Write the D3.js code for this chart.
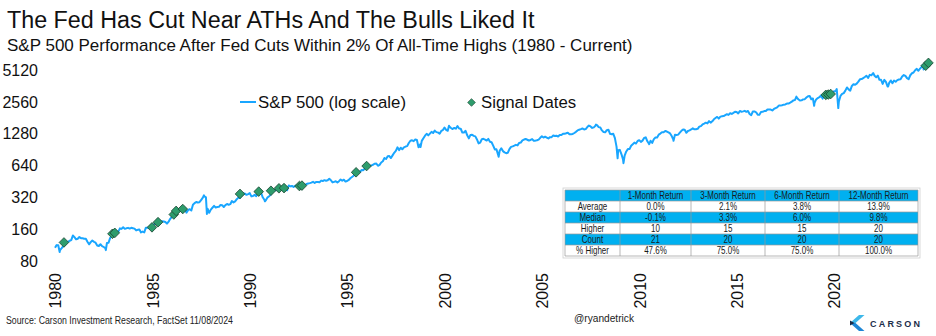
<!DOCTYPE html>
<html><head><meta charset="utf-8">
<script src="https://cdn.jsdelivr.net/npm/d3@7"></script>
<style>
body{margin:0;background:#fff}
svg{display:block;font-family:"Liberation Sans",Arial,Helvetica,sans-serif}
</style>
</head><body>
<svg id="chart" width="936" height="336"></svg>
<script>
// ---------------- DATA ----------------
const titleText = "The Fed Has Cut Near ATHs And The Bulls Liked It";
const subtitleText = "S&P 500 Performance After Fed Cuts Within 2% Of All-Time Highs (1980 - Current)";
const sourceText = "Source: Carson Investment Research, FactSet 11/08/2024";
const handleText = "@ryandetrick";

// S&P 500 month-end closes; first value is the Dec-1979 close (placed at 1980.0)
const startYear = 1980;
const spxMonthly = [
107.94,
114.16,113.66,102.09,106.29,111.24,114.24,121.67,122.38,125.46,127.47,140.52,135.76,
129.55,131.27,136.00,132.81,132.59,131.21,130.92,122.79,116.18,121.89,126.35,122.55,
120.40,113.11,111.96,116.44,111.88,109.61,107.09,119.51,120.42,133.71,138.54,140.64,
145.30,148.06,152.96,164.42,162.39,168.11,162.56,164.40,166.07,163.55,166.40,164.93,
163.41,157.06,159.18,160.05,150.55,153.18,150.66,166.68,166.10,166.09,163.58,167.24,
179.63,181.18,180.66,179.83,189.55,191.85,190.92,188.63,182.08,189.82,202.17,211.28,
211.78,226.92,238.90,235.52,247.35,250.84,236.12,252.93,231.32,243.98,249.22,242.17,
274.08,284.20,291.70,288.36,290.10,304.00,318.66,329.80,321.83,251.79,230.30,247.08,
257.07,267.82,258.89,261.33,262.16,273.50,272.02,261.52,271.91,278.97,273.70,277.72,
297.47,288.86,294.87,309.64,320.52,317.98,346.08,351.45,349.15,340.36,345.99,353.40,
329.08,331.89,339.94,330.80,361.23,358.02,356.15,322.56,306.05,304.00,322.22,330.22,
343.93,367.07,375.22,375.34,389.83,371.16,387.81,395.43,387.86,392.46,375.22,417.09,
408.79,412.70,403.69,414.95,415.35,408.14,424.21,414.03,417.80,418.68,431.35,435.71,
438.78,443.38,451.67,440.19,450.19,450.53,448.13,463.56,458.93,467.83,461.79,466.45,
481.61,467.14,445.77,450.91,456.50,444.27,458.26,475.49,462.69,472.35,453.69,459.27,
470.42,487.39,500.71,514.71,533.40,544.75,562.06,561.88,584.41,581.50,605.37,615.93,
636.02,640.43,645.50,654.17,669.12,670.63,639.95,651.99,687.33,705.27,757.02,740.74,
786.16,790.82,757.12,801.34,848.28,885.14,954.29,899.47,947.28,914.62,955.40,970.43,
980.28,1049.34,1101.75,1111.75,1090.82,1133.84,1120.67,957.28,1017.01,1098.67,1163.63,1229.23,
1279.64,1238.33,1286.37,1335.18,1301.84,1372.71,1328.72,1320.41,1282.71,1362.93,1388.91,1469.25,
1394.46,1366.42,1498.58,1452.43,1420.60,1454.60,1430.83,1517.68,1436.51,1429.40,1314.95,1320.28,
1366.01,1239.94,1160.33,1249.46,1255.82,1224.38,1211.23,1133.58,1040.94,1059.78,1139.45,1148.08,
1130.20,1106.73,1147.39,1076.92,1067.14,989.82,911.62,916.07,815.28,885.76,936.31,879.82,
855.70,841.15,848.18,916.92,963.59,974.50,990.31,1008.01,995.97,1050.71,1058.20,1111.92,
1131.13,1144.94,1126.21,1107.30,1120.68,1140.84,1101.72,1104.24,1114.58,1130.20,1173.82,1211.92,
1181.27,1203.60,1180.59,1156.85,1191.50,1191.33,1234.18,1220.33,1228.81,1207.01,1249.48,1248.29,
1280.08,1280.66,1294.87,1310.61,1270.09,1270.20,1276.66,1303.82,1335.85,1377.94,1400.63,1418.30,
1438.24,1406.82,1420.86,1482.37,1530.62,1503.35,1455.27,1473.99,1526.75,1549.38,1481.14,1468.36,
1378.55,1330.63,1322.70,1385.59,1400.38,1280.00,1267.38,1282.83,1166.36,968.75,896.24,903.25,
825.88,735.09,797.87,872.81,919.14,919.32,987.48,1020.62,1057.08,1036.19,1095.63,1115.10,
1073.87,1104.49,1169.43,1186.69,1089.41,1030.71,1101.60,1049.33,1141.20,1183.26,1180.55,1257.64,
1286.12,1327.22,1325.83,1363.61,1345.20,1320.64,1292.28,1218.89,1131.42,1253.30,1246.96,1257.60,
1312.41,1365.68,1408.47,1397.91,1310.33,1362.16,1379.32,1406.58,1440.67,1412.16,1416.18,1426.19,
1498.11,1514.68,1569.19,1597.57,1630.74,1606.28,1685.73,1632.97,1681.55,1756.54,1805.81,1848.36,
1782.59,1859.45,1872.34,1883.95,1923.57,1960.23,1930.67,2003.37,1972.29,2018.05,2067.56,2058.90,
1994.99,2104.50,2067.89,2085.51,2107.39,2063.11,2103.84,1972.18,1920.03,2079.36,2080.41,2043.94,
1940.24,1932.23,2059.74,2065.30,2096.95,2098.86,2173.60,2170.95,2168.27,2126.15,2198.81,2238.83,
2278.87,2363.64,2362.72,2384.20,2411.80,2423.41,2470.30,2471.65,2519.36,2575.26,2647.58,2673.61,
2823.81,2713.83,2640.87,2648.05,2705.27,2718.37,2816.29,2901.52,2913.98,2711.74,2760.17,2506.85,
2704.10,2784.49,2834.40,2945.83,2752.06,2941.76,2980.38,2926.46,2976.74,3037.56,3140.98,3230.78,
3225.52,2954.22,2584.59,2912.43,3044.31,3100.29,3271.12,3500.31,3363.00,3269.96,3621.63,3756.07,
3714.24,3811.15,3972.89,4181.17,4204.11,4297.50,4395.26,4522.68,4307.54,4605.38,4567.00,4766.18,
4515.55,4373.94,4530.41,4131.93,4132.15,3785.38,4130.29,3955.00,3585.62,3871.98,4080.11,3839.50,
4076.60,3970.15,4109.31,4169.48,4179.83,4450.38,4588.96,4507.66,4288.05,4193.80,4567.80,4769.83,
4845.65,5096.27,5254.35,5035.69,5277.51,5460.48,5522.30,5648.40,5762.48,5705.45
];
// Latest close (11/08/2024)
const spxLatest = [2024.855, 5995.54];
// Notable intra-month highs / lows (decimal year, level)
const spxExtremes = [
[1980.24,98.22],[1982.61,102.42],[1987.65,336.77],[1987.80,224.84],[1990.78,295.46],
[1998.77,959.44],[2000.23,1527.46],[2002.78,776.76],[2007.78,1565.15],[2008.89,752.44],
[2009.19,676.53],[2010.51,1022.58],[2011.76,1099.23],[2018.07,2872.87],[2018.98,2351.10],
[2020.14,3386.15],[2020.22,2237.40],[2022.01,4796.56],[2022.78,3577.03],[2024.54,5667.20],[2024.60,5186.33]
];

// Fed cut "signal dates" within 2% of all-time highs (decimal year, S&P level)
const signalDates  = [1980.46,1982.95,1983.07,1984.98,1985.29,1986.10,1986.22,1986.56,1989.50,1990.46,1991.09,
                      1991.50,1991.76,1992.55,1992.68,1995.46,1996.00,2019.58,2019.71,2019.83,2024.71,2024.85];
const signalValues = [121,146,149,168,188,222,240,250,347,365,372,
                      392,394,412,416,555,636,2985,3005,3040,5620,5975];

const yTickValues = [80,160,320,640,1280,2560,5120];
const xTickValues = [1980,1985,1990,1995,2000,2005,2010,2015,2020];

const tableHeader = ["","1-Month Return","3-Month Return","6-Month Return","12-Month Return"];
const tableRows = [
  ["Average","0.0%","2.1%","3.8%","13.9%"],
  ["Median","-0.1%","3.3%","6.0%","9.8%"],
  ["Higher","10","15","15","20"],
  ["Count","21","20","20","20"],
  ["% Higher","47.6%","75.0%","75.0%","100.0%"]
];

// ---------------- DRAW ----------------
const svg = d3.select("#chart");
const LINE = "#19A6FF", DIAMOND = "#2E9C6C", DIAMOND_STROKE = "#1E4A36", TBLUE = "#00B0F0";

const x = d3.scaleLinear().domain([1980, 2020]).range([55, 834]);
const y = d3.scaleLog().base(2).domain([80, 5120]).range([261.5, 70]);

// title / subtitle
svg.append("text").attr("x", 7).attr("y", 28).attr("font-size", 23.3).attr("fill", "#111")
  .text(titleText);
svg.append("text").attr("x", 7).attr("y", 51).attr("font-size", 17).attr("fill", "#111")
  .text(subtitleText);

// y axis labels
const yAxis = d3.axisLeft(y).tickValues(yTickValues).tickFormat(d3.format("d")).tickSize(0).tickPadding(0);
const gy = svg.append("g").attr("transform", "translate(38,0)").call(yAxis);
gy.select(".domain").remove();
gy.selectAll("text").attr("font-size", 16).attr("fill", "#111").attr("font-family", "Liberation Sans, Arial, sans-serif");

// x axis labels (rotated)
const xAxis = d3.axisBottom(x).tickValues(xTickValues).tickFormat(d3.format("d")).tickSize(0).tickPadding(0);
const gx = svg.append("g").attr("transform", "translate(0,273)").call(xAxis);
gx.select(".domain").remove();
gx.selectAll("text").attr("font-size", 16).attr("fill", "#111")
  .attr("font-family", "Liberation Sans, Arial, sans-serif")
  .attr("text-anchor", "end").attr("transform", "rotate(-90)")
  .attr("x", 0).attr("y", 0).attr("dy", "0.36em");

// series
const series = spxMonthly.map((v, i) => [startYear + i / 12, v])
  .concat(spxExtremes).concat([spxLatest])
  .sort((a, b) => a[0] - b[0]);
const line = d3.line().x(d => x(d[0])).y(d => y(d[1]));
svg.append("path").datum(series).attr("d", line).attr("fill", "none")
  .attr("stroke", LINE).attr("stroke-width", 2).attr("stroke-linejoin", "round");

// signals
const sym = d3.symbol().type(d3.symbolSquare).size(46);
svg.append("g").selectAll("path").data(signalDates.map((d, i) => [d, signalValues[i]]))
  .join("path")
  .attr("d", sym)
  .attr("transform", d => `translate(${x(d[0])},${y(d[1])}) rotate(45)`)
  .attr("fill", DIAMOND).attr("stroke", DIAMOND_STROKE).attr("stroke-width", 0.8);

// legend
const lg = svg.append("g");
lg.append("line").attr("x1", 240).attr("x2", 256).attr("y1", 102).attr("y2", 102)
  .attr("stroke", LINE).attr("stroke-width", 2);
lg.append("text").attr("x", 258).attr("y", 108).attr("font-size", 16.8).attr("fill", "#111")
  .text("S&P 500 (log scale)");
lg.append("path").attr("d", d3.symbol().type(d3.symbolSquare).size(30)())
  .attr("transform", "translate(471.5,102.5) rotate(45)")
  .attr("fill", DIAMOND).attr("stroke", DIAMOND_STROKE).attr("stroke-width", 0.6);
lg.append("text").attr("x", 481).attr("y", 108).attr("font-size", 16.8).attr("fill", "#111")
  .text("Signal Dates");

// table
const colEdges = [565, 620, 691, 765, 839, 918];
const rowTop = 190, rowH = 11;
const allRows = [tableHeader].concat(tableRows);
const tg = svg.append("g");
allRows.forEach((row, r) => {
  const top = rowTop + r * rowH;
  const blue = (r % 2 === 0);
  tg.append("rect").attr("x", colEdges[0]).attr("y", top)
    .attr("width", colEdges[5] - colEdges[0]).attr("height", rowH)
    .attr("fill", blue ? TBLUE : "#fff");
  row.forEach((cell, c) => {
    const cx = (colEdges[c] + colEdges[c + 1]) / 2;
    tg.append("text").attr("transform", `translate(${cx},${top + rowH / 2 + 3.5}) scale(0.8,1)`)
      .attr("text-anchor", "middle").attr("font-size", 10).attr("fill", "#1a1a1a").text(cell);
  });
});
// grid lines
for (let r = 0; r <= allRows.length; r++) {
  tg.append("line").attr("x1", colEdges[0]).attr("x2", colEdges[5])
    .attr("y1", rowTop + r * rowH).attr("y2", rowTop + r * rowH)
    .attr("stroke", "#9a9a9a").attr("stroke-width", 0.7);
}
colEdges.forEach(cx => {
  tg.append("line").attr("x1", cx).attr("x2", cx).attr("y1", rowTop).attr("y2", rowTop + allRows.length * rowH)
    .attr("stroke", "#9a9a9a").attr("stroke-width", 0.7);
});
tg.append("rect").attr("x", colEdges[0] - 2).attr("y", rowTop - 2)
  .attr("width", colEdges[5] - colEdges[0] + 4).attr("height", allRows.length * rowH + 4)
  .attr("fill", "none").attr("stroke", "#cfcfcf").attr("stroke-width", 0.8);

// footer
svg.append("text").attr("x", 6).attr("y", 324).attr("font-size", 10).attr("fill", "#222")
  .attr("textLength", 227).attr("lengthAdjust", "spacingAndGlyphs").text(sourceText);
svg.append("text").attr("x", 604).attr("y", 322).attr("text-anchor", "middle").attr("font-size", 10.5)
  .attr("fill", "#222").attr("textLength", 60).attr("lengthAdjust", "spacingAndGlyphs").text(handleText);

// Carson logo
const logo = svg.append("g");
logo.append("polygon").attr("points", "859,315 864.5,315 855.5,323 850,323").attr("fill", "#3DB8EA");
logo.append("polygon").attr("points", "850,323 855.5,323 864.5,331 859,331").attr("fill", "#1D86D6");
logo.append("polygon").attr("points", "850,320.5 854.5,323 850,325.5").attr("fill", "#1B2D4A");
logo.append("text").attr("x", 870).attr("y", 326.5).attr("font-size", 9).attr("font-weight", "bold")
  .attr("fill", "#1B2D4A").attr("letter-spacing", 2.2).text("CARSON");
</script>
</body></html>
